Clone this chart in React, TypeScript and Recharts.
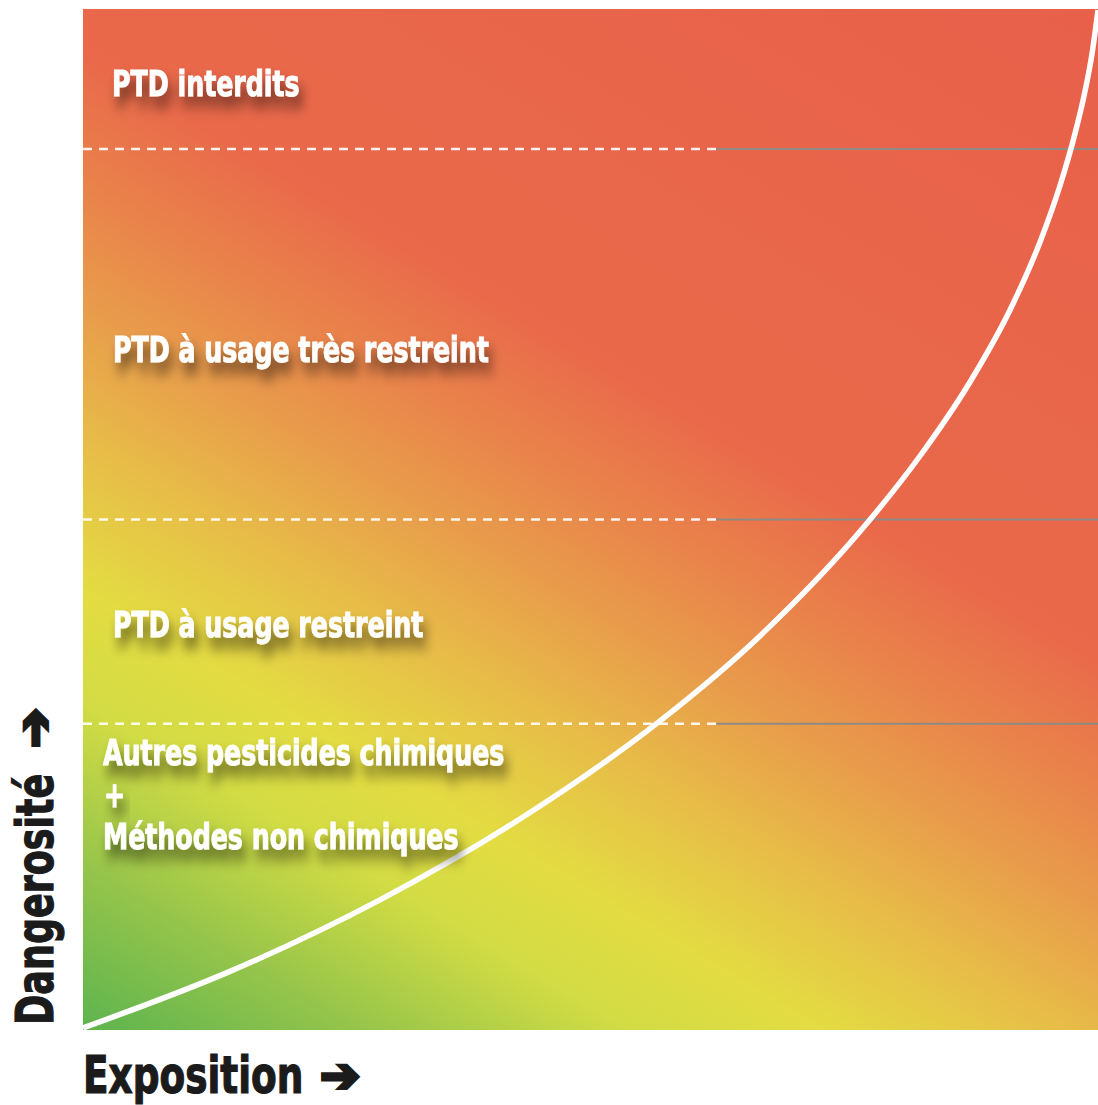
import React from 'react';
import { ComposedChart, XAxis, YAxis, Line, Scatter, ReferenceArea, ReferenceLine } from 'recharts';

// Curve: exposure (x) vs dangerosité (y) (0–100 scale)
const exposure = [0, 14.48, 29.26, 43.05, 56.85, 66.7, 77.34, 82.46, 87.39, 91.33, 94.29, 96.26, 97.73, 98.72, 99.41, 100];
const danger = [0.2, 5.74, 12.75, 20.67, 30.27, 38.6, 49.75, 56.22, 63.47, 70.52, 77.18, 82.71, 87.78, 91.94, 95.61, 99.9];

// Horizontal class boundaries (dangerosité)
const thresholds = [30, 50, 86.3];
const dashEnd = 62.4;

// Zone labels
const labelTexts = [
  'PTD interdits',
  'PTD à usage très restreint',
  'PTD à usage restreint',
  'Autres pesticides chimiques',
  '+',
  'Méthodes non chimiques',
];
const labelX = [2.86, 2.96, 2.96, 1.97, 2.07, 1.97];
const labelY = [91.5, 65.4, 38.5, 26.0, 21.8, 17.7];

const xTitle = 'Exposition';
const yTitle = 'Dangerosité';
const arrowGlyph = '➔';

const curveData = exposure.map((x, i) => ({ x, y: danger[i] }));
const labelData = labelTexts.map((label, i) => ({ x: labelX[i], y: labelY[i], label }));

const FONT = "'Liberation Sans Narrow', 'DejaVu Sans Condensed', 'Arial Narrow', sans-serif";
const ARROW_FONT = "'DejaVu Sans', sans-serif";
const SQUEEZE = 0.78;

const LabelShape = (props: any) => {
  const { cx, cy, payload } = props;
  return (
    <g transform={`translate(${cx},${cy}) scale(${SQUEEZE},1)`}>
      <text
        x={0}
        y={0}
        fill="#ffffff"
        stroke="#ffffff"
        strokeWidth={0.9}
        fontFamily={FONT}
        fontWeight={700}
        fontSize={36}
        filter="url(#tshadow)"
      >
        {payload.label}
      </text>
    </g>
  );
};

const Arrow = ({ x, y }: { x: number; y: number }) => (
  <text
    x={x}
    y={y}
    fill="#1b1b1b"
    stroke="#1b1b1b"
    strokeWidth={3.5}
    strokeLinejoin="miter"
    fontFamily={ARROW_FONT}
    fontWeight={700}
    fontSize={48}
    dominantBaseline="central"
  >
    {arrowGlyph}
  </text>
);

const XTitle = (props: any) => {
  const vb = props.viewBox || { x: 83, y: 1030, width: 1015, height: 75 };
  return (
    <g>
      <g transform={`translate(${vb.x},${vb.y + 63}) scale(0.8,1)`}>
        <text x={0} y={0} fill="#1b1b1b" stroke="#1b1b1b" strokeWidth={1.2} fontFamily={FONT} fontWeight={700} fontSize={52}>
          {xTitle}
        </text>
      </g>
      <Arrow x={vb.x + 237} y={vb.y + 45} />
    </g>
  );
};

const YTitle = (props: any) => {
  const vb = props.viewBox || { x: 0, y: 9, width: 83, height: 1021 };
  const bx = vb.x + 53;
  const by = vb.y + vb.height - 5;
  return (
    <g transform={`translate(${bx},${by}) rotate(-90)`}>
      <g transform={`scale(0.78,1)`}>
        <text x={0} y={0} fill="#1b1b1b" stroke="#1b1b1b" strokeWidth={1.2} fontFamily={FONT} fontWeight={700} fontSize={52}>
          {yTitle}
        </text>
      </g>
      <Arrow x={277} y={-19} />
    </g>
  );
};

export default function App() {
  return (
    <div style={{ width: 1098, height: 1105 }}>
      <style>{'body{margin:0}'}</style>
      <ComposedChart width={1098} height={1105} margin={{ top: 9, right: 0, bottom: 0, left: 0 }}>
        <defs>
          <linearGradient id="bg" x1="0" y1="1" x2="0.7" y2="-0.18">
            <stop offset="0" stopColor="#5db44f" />
            <stop offset="0.1" stopColor="#95c44b" />
            <stop offset="0.2" stopColor="#d2dc44" />
            <stop offset="0.27" stopColor="#e3dc42" />
            <stop offset="0.36" stopColor="#e7bd48" />
            <stop offset="0.44" stopColor="#e89e4b" />
            <stop offset="0.52" stopColor="#e9824b" />
            <stop offset="0.6" stopColor="#e9694a" />
            <stop offset="1" stopColor="#e8604a" />
          </linearGradient>
          <filter id="tshadow" x="-20%" y="-60%" width="140%" height="280%">
            <feGaussianBlur in="SourceAlpha" stdDeviation="7" />
            <feOffset dx="5" dy="11" result="blur" />
            <feComponentTransfer>
              <feFuncA type="linear" slope="0.55" />
            </feComponentTransfer>
            <feMerge>
              <feMergeNode />
              <feMergeNode in="SourceGraphic" />
            </feMerge>
          </filter>
        </defs>
        <XAxis
          dataKey="x"
          type="number"
          domain={[0, 100]}
          allowDataOverflow
          height={75}
          tick={false}
          axisLine={false}
          tickLine={false}
          label={<XTitle />}
        />
        <YAxis
          dataKey="y"
          type="number"
          domain={[0, 100]}
          allowDataOverflow
          width={83}
          tick={false}
          axisLine={false}
          tickLine={false}
          label={<YTitle />}
        />
        <ReferenceArea x1={0} x2={100} y1={0} y2={100} fill="url(#bg)" fillOpacity={1} stroke="none" />
        {thresholds.map((t) => (
          <ReferenceLine
            key={`d${t}`}
            segment={[{ x: 0, y: t }, { x: dashEnd, y: t }]}
            stroke="#ffffff"
            strokeOpacity={0.9}
            strokeWidth={2.5}
            strokeDasharray="9 7"
          />
        ))}
        {thresholds.map((t) => (
          <ReferenceLine
            key={`s${t}`}
            segment={[{ x: dashEnd, y: t }, { x: 100, y: t }]}
            stroke="#8e8a84"
            strokeWidth={2}
          />
        ))}
        <Line
          data={curveData}
          dataKey="y"
          type="monotone"
          stroke="#ffffff"
          strokeWidth={5.5}
          dot={false}
          activeDot={false}
          isAnimationActive={false}
        />
        <Scatter data={labelData} dataKey="y" shape={<LabelShape />} isAnimationActive={false} />
      </ComposedChart>
    </div>
  );
}
